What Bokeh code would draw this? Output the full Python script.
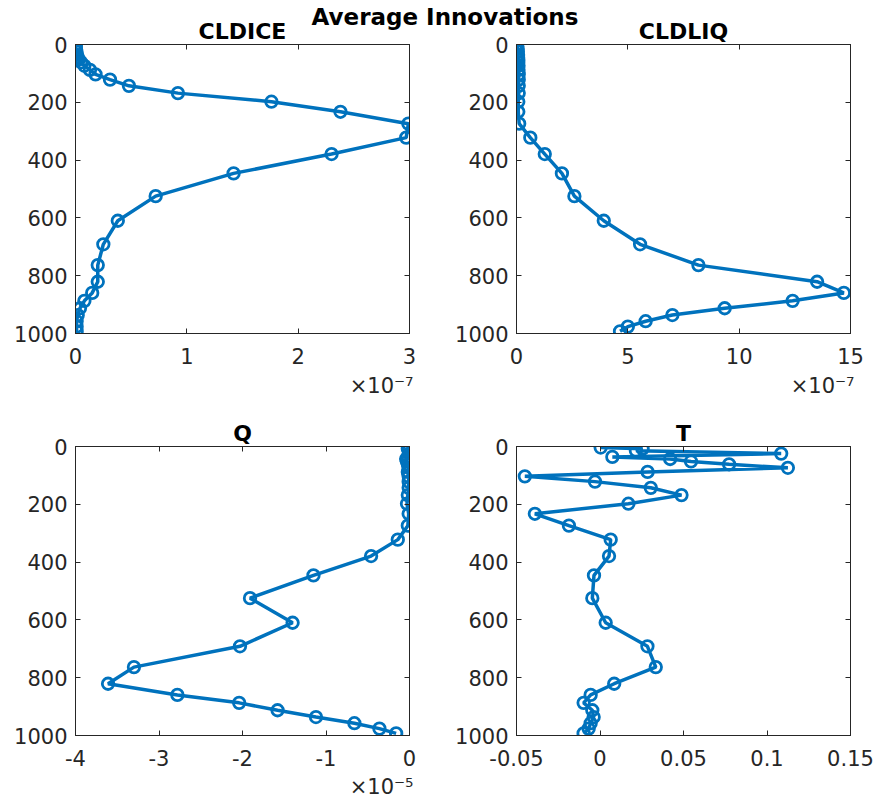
from bokeh.plotting import figure
from bokeh.models import Range1d, LinearAxis, FixedTicker, NumeralTickFormatter, Title, Div
from bokeh.layouts import column, row
from bokeh.embed import file_html
from bokeh.resources import INLINE

# Pressure levels (hPa)
levels = [3.64, 7.59, 14.36, 24.61, 35.92, 43.19, 51.68, 61.52, 73.75, 87.82,
          103.32, 121.55, 142.99, 168.23, 197.91, 232.83, 273.91, 322.24, 379.10,
          445.99, 524.69, 609.78, 691.39, 763.40, 820.86, 859.53, 887.02, 912.64,
          936.20, 957.49, 976.33, 992.56]

# CLDICE innovations (x 1e-7)
cldice = [0.001, 0.002, 0.004, 0.008, 0.013, 0.02, 0.03, 0.05, 0.08, 0.13,
          0.18, 0.31, 0.48, 0.92, 1.76, 2.38, 2.99, 2.97, 2.30, 1.42, 0.72, 0.38,
          0.25, 0.20, 0.20, 0.15, 0.08, 0.04, 0.02, 0.01, 0.01, 0.01]

# CLDLIQ innovations (x 1e-7)
cldliq = [0.02, 0.03, 0.05, 0.06, 0.07, 0.07, 0.08, 0.08, 0.09, 0.09,
          0.1, 0.1, 0.1, 0.1, 0.08, 0.08, 0.12, 0.62, 1.27, 2.04, 2.60, 3.92,
          5.55, 8.17, 13.5, 14.7, 12.4, 9.35, 7.0, 5.8, 5.0, 4.65]

# Q innovations (x 1e-5)
q = [-0.01, -0.02, -0.01, 0.0, -0.02, -0.04, -0.03, -0.02, -0.01, -0.02,
     -0.01, -0.01, -0.01, -0.02, -0.03, -0.01, -0.02, -0.14, -0.46, -1.15, -1.91, -1.40,
     -2.03, -3.30, -3.61, -2.78, -2.04, -1.58, -1.12, -0.66, -0.36, -0.16]

# T innovations
t = [0.0004, 0.0255, 0.0215, 0.1085, 0.0074, 0.042, 0.0545, 0.0773, 0.1125, 0.0285,
     -0.045, -0.003, 0.0304, 0.0488, 0.017, -0.039, -0.0186, 0.0064, 0.0054, -0.0036,
     -0.0046, 0.0034, 0.0284, 0.0334, 0.0085, -0.0056, -0.0098, -0.0046, -0.0038,
     -0.0056, -0.0068, -0.0098]

titles = ["CLDICE", "CLDLIQ", "Q", "T"]
xlims = [(0, 3), (0, 15), (-4, 0), (-0.05, 0.15)]
xticks = [[0, 1, 2, 3], [0, 5, 10, 15], [-4, -3, -2, -1, 0], [-0.05, 0, 0.05, 0.1, 0.15]]
exponents = ["\u00d710\u207b\u2077", "\u00d710\u207b\u2077", "\u00d710\u207b\u2075", None]
yticks = [0, 200, 400, 600, 800, 1000]

BLUE = "#0072BD"
AX = "#262626"
FONT = "DejaVu Sans"


def box_axis(ticks):
    return LinearAxis(ticker=FixedTicker(ticks=ticks), major_tick_in=5, major_tick_out=0,
                      minor_tick_line_color=None, major_label_text_font_size="0px",
                      major_label_text_color=None, major_label_standoff=0,
                      axis_line_color=AX, major_tick_line_color=AX)


def panel(title, xvals, xlim, xt, expo, width, height, mbl, mbr, mbt, mbb, expo_gap):
    p = figure(width=width, height=height, x_range=Range1d(*xlim), y_range=Range1d(1000, 0),
               output_backend="svg", toolbar_location=None,
               min_border_left=mbl, min_border_right=mbr, min_border_top=mbt, min_border_bottom=mbb)
    p.border_fill_color = None
    p.background_fill_color = "white"
    p.grid.visible = False
    p.outline_line_color = AX
    p.outline_line_width = 1
    p.line(xvals, levels, line_width=3.5, color=BLUE)
    p.scatter(xvals, levels, marker="circle", size=11.5, fill_color=None,
              line_color=BLUE, line_width=2.8)

    for ax in p.xaxis:
        ax.ticker = FixedTicker(ticks=xt)
        ax.formatter = NumeralTickFormatter(format="0.[00]")
        ax.major_label_standoff = 14
    for ax in p.yaxis:
        ax.ticker = FixedTicker(ticks=yticks)
        ax.formatter = NumeralTickFormatter(format="0")
        ax.major_label_standoff = 8
    for ax in list(p.xaxis) + list(p.yaxis):
        ax.major_tick_in = 5
        ax.major_tick_out = 0
        ax.minor_tick_line_color = None
        ax.axis_line_color = AX
        ax.major_tick_line_color = AX
        ax.major_label_text_font = FONT
        ax.major_label_text_font_size = "21px"
        ax.major_label_text_color = AX

    # box ticks on top and right
    p.add_layout(box_axis(xt), "above")
    p.add_layout(box_axis(yticks), "right")

    p.title.text = title
    p.title.align = "center"
    p.title.text_font = FONT
    p.title.text_font_style = "bold"
    p.title.text_font_size = "22px"
    p.title.text_color = "black"
    p.title.standoff = 1

    if expo:
        p.add_layout(Title(text=expo, align="right", offset=-4, standoff=expo_gap,
                           text_font=FONT, text_font_size="21px", text_font_style="normal",
                           text_color=AX), "below")
    return p


p1 = panel(titles[0], cldice, xlims[0], xticks[0], exponents[0], 440, 405, 75, 31, 44, 72, 11)
p2 = panel(titles[1], cldliq, xlims[1], xticks[1], exponents[1], 436, 405, 76, 26, 44, 72, 11)
p3 = panel(titles[2], q, xlims[2], xticks[2], exponents[2], 440, 398, 75, 31, 41, 68, 8)
p4 = panel(titles[3], t, xlims[3], xticks[3], exponents[3], 436, 398, 76, 26, 41, 68, 8)

title_div = Div(text='<div style="font-family:\'DejaVu Sans\';font-weight:bold;font-size:23px;'
                     'line-height:24px;padding-top:5px;width:876px;box-sizing:border-box;'
                     'text-align:center;padding-left:14px;color:black;background:transparent;">'
                     'Average Innovations</div>',
                width=876, height=30, margin=(0, 0, -30, 0),
                styles={"position": "relative", "z-index": "5", "background": "transparent",
                        "pointer-events": "none"})

layout = column(title_div, row(p1, p2), row(p3, p4))

open("out.html", "w").write(file_html(layout, INLINE))
